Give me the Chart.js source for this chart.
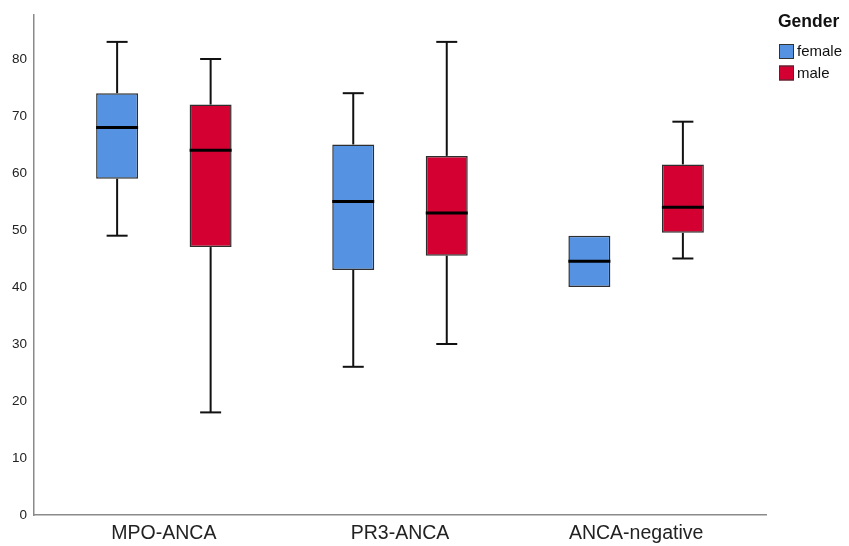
<!DOCTYPE html>
<html><head><meta charset="utf-8">
<script src="https://cdn.jsdelivr.net/npm/chart.js@4.4.1/dist/chart.umd.min.js"></script>
<style>html,body{margin:0;padding:0;background:#fff;}canvas{display:block}</style>
</head><body>
<canvas id="c" width="849" height="546"></canvas>
<script>
const categories = ['MPO-ANCA', 'PR3-ANCA', 'ANCA-negative'];
const legendTitle = 'Gender';
const seriesNames = ['female', 'male'];
const seriesColors = ['#5592e1', '#d50032'];

const femaleMin    = [49, 26, 40];
const femaleQ1     = [59, 43, 40];
const femaleMedian = [68, 55, 44.5];
const femaleQ3     = [74, 65, 49];
const femaleMax    = [83, 74, 49];

const maleMin    = [18, 30, 45];
const maleQ1     = [47, 45.5, 49.5];
const maleMedian = [64, 53, 54];
const maleQ3     = [72, 63, 61.5];
const maleMax    = [80, 83, 69];

const yTicks = [0, 10, 20, 30, 40, 50, 60, 70, 80];

const stats = [
  {min: femaleMin, q1: femaleQ1, med: femaleMedian, q3: femaleQ3, max: femaleMax},
  {min: maleMin, q1: maleQ1, med: maleMedian, q3: maleQ3, max: maleMax}
];

const boxData = (q1, q3) => q1.map((v, i) => ({x: i + 1, y: [v, q3[i]]}));

const boxPlugin = {
  id: 'boxWhiskers',
  beforeDatasetsDraw(chart) {
    const ctx = chart.ctx, y = chart.scales.y;
    ctx.save();
    ctx.strokeStyle = '#111';
    ctx.lineWidth = 2;
    stats.forEach((s, d) => {
      chart.getDatasetMeta(d).data.forEach((el, i) => {
        const x = el.x, cap = 10.5;
        const seg = (a, b) => {
          if (a === b) return;
          ctx.beginPath();
          ctx.moveTo(x, y.getPixelForValue(a));
          ctx.lineTo(x, y.getPixelForValue(b));
          ctx.stroke();
          ctx.beginPath();
          ctx.moveTo(x - cap, y.getPixelForValue(b));
          ctx.lineTo(x + cap, y.getPixelForValue(b));
          ctx.stroke();
        };
        seg(s.q3[i], s.max[i]);
        seg(s.q1[i], s.min[i]);
      });
    });
    ctx.restore();
  },
  afterDatasetsDraw(chart) {
    const ctx = chart.ctx, y = chart.scales.y;
    ctx.save();
    ctx.strokeStyle = '#000';
    ctx.lineWidth = 3;
    stats.forEach((s, d) => {
      chart.getDatasetMeta(d).data.forEach((el, i) => {
        const py = y.getPixelForValue(s.med[i]);
        ctx.beginPath();
        ctx.moveTo(el.x - el.width / 2, py);
        ctx.lineTo(el.x + el.width / 2, py);
        ctx.stroke();
      });
    });
    ctx.restore();
  }
};

const legendPlugin = {
  id: 'sideLegend',
  afterDraw(chart) {
    const ctx = chart.ctx;
    ctx.save();
    ctx.fillStyle = '#111';
    ctx.font = 'bold 17.5px "Liberation Sans", Arial, sans-serif';
    ctx.textBaseline = 'alphabetic';
    ctx.textAlign = 'left';
    ctx.fillText(legendTitle, 778, 27);
    ctx.font = '15px "Liberation Sans", Arial, sans-serif';
    ctx.textBaseline = 'middle';
    chart.data.datasets.forEach((ds, i) => {
      const top = 44 + i * 21.5;
      ctx.fillStyle = ds.backgroundColor;
      ctx.fillRect(779, top, 15, 15);
      ctx.strokeStyle = '#333';
      ctx.lineWidth = 1;
      ctx.strokeRect(779.5, top + 0.5, 14, 14);
      ctx.fillStyle = '#111';
      ctx.fillText(ds.label, 797, top + 8);
    });
    ctx.restore();
  }
};

new Chart(document.getElementById('c'), {
  type: 'bar',
  data: {
    datasets: seriesNames.map((name, d) => ({
      label: name,
      data: boxData(stats[d].q1, stats[d].q3),
      backgroundColor: seriesColors[d],
      borderColor: '#2e2e2e',
      borderWidth: 1.5,
      borderSkipped: false,
      categoryPercentage: 0.792,
      barPercentage: 0.449
    }))
  },
  options: {
    responsive: false,
    animation: false,
    layout: {padding: {top: 12, right: 83, left: 0, bottom: 0}},
    plugins: {legend: {display: false}, tooltip: {enabled: false}},
    scales: {
      x: {
        type: 'linear', min: 0.45, max: 3.55, offset: false,
        grid: {display: false, drawTicks: false, tickLength: 0},
        border: {display: true, color: '#8a8a8a', width: 1.5},
        afterBuildTicks: s => { s.ticks = categories.map((c, i) => ({value: i + 1})); },
        ticks: {
          callback: v => categories[v - 1] || '',
          font: {family: '"Liberation Sans", Arial, sans-serif', size: 19.5},
          color: '#222', padding: 7, autoSkip: false, maxRotation: 0
        },
        afterFit: s => { s.height = 31; }
      },
      y: {
        min: 0, max: 87.7,
        grid: {display: false, drawTicks: false, tickLength: 0},
        border: {display: true, color: '#8a8a8a', width: 1.5},
        afterBuildTicks: s => { s.ticks = yTicks.map(v => ({value: v})); },
        ticks: {
          font: {family: '"Liberation Sans", Arial, sans-serif', size: 13.5},
          color: '#222', padding: 7
        },
        afterFit: s => { s.width = 34; }
      }
    }
  },
  plugins: [boxPlugin, legendPlugin]
});
</script>
</body></html>
